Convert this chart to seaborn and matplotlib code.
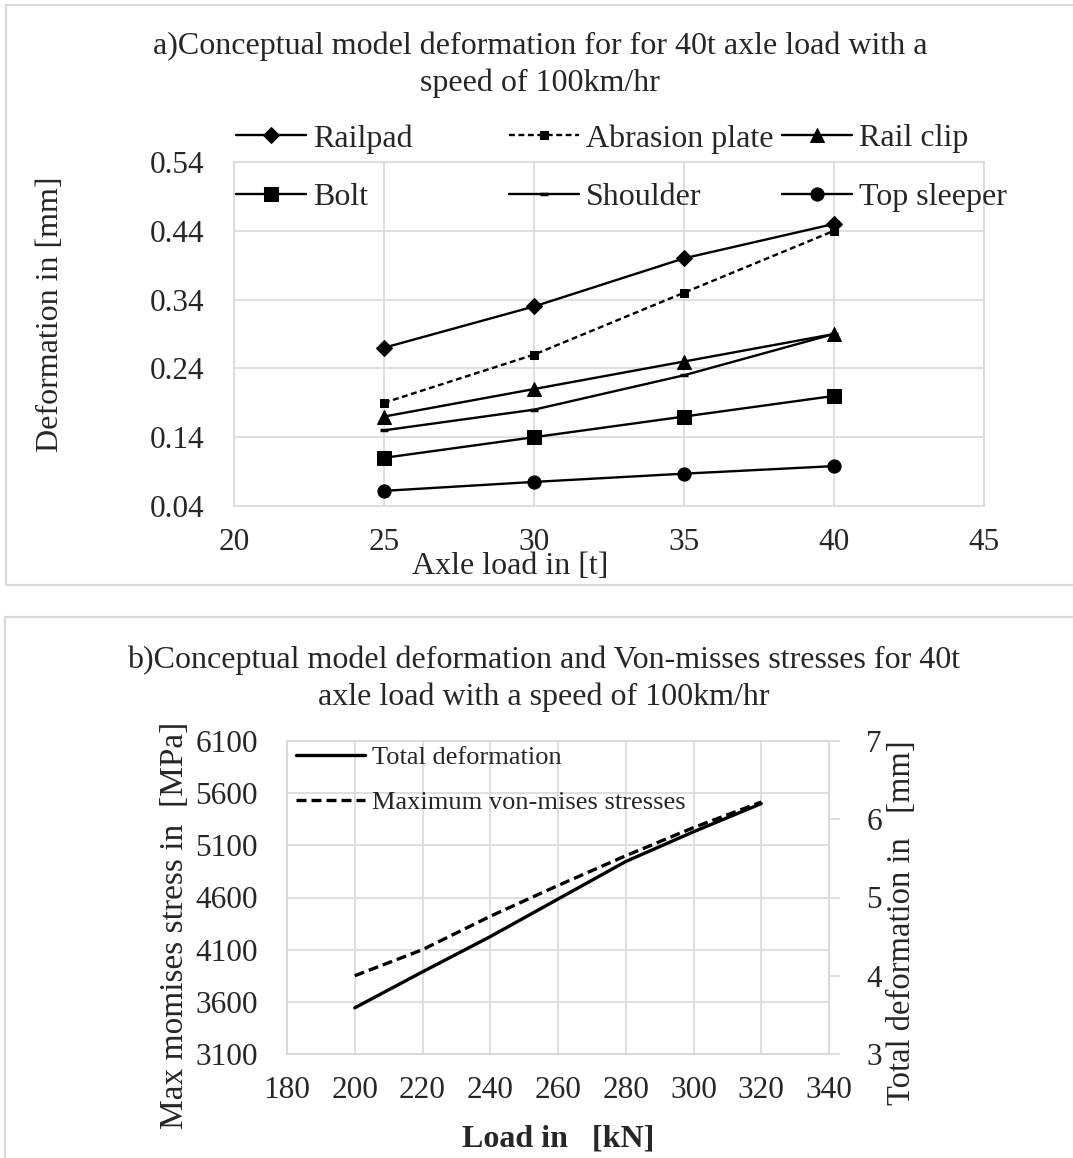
import numpy as np
import pandas as pd
import matplotlib
matplotlib.use("Agg")
import matplotlib.pyplot as plt
from matplotlib.patches import Rectangle
import seaborn as sns

# a) component deformation vs axle load
axle_load = [25, 30, 35, 40]
railpad = [0.27, 0.33, 0.40, 0.45]
abrasion_plate = [0.19, 0.26, 0.35, 0.44]
rail_clip = [0.17, 0.21, 0.25, 0.29]
bolt = [0.11, 0.14, 0.17, 0.20]
shoulder = [0.15, 0.18, 0.23, 0.29]
top_sleeper = [0.062, 0.075, 0.087, 0.098]

# b) total deformation and von-mises stress vs load
load_kn = [200, 220, 240, 260, 280, 300, 320]
total_deformation = [3.59, 4.05, 4.50, 4.98, 5.46, 5.84, 6.20]
von_mises = [3850, 4100, 4420, 4715, 5000, 5270, 5515]

sns.set_style("white")
plt.rcParams['font.family'] = ['Liberation Serif', 'DejaVu Serif']
plt.rcParams['axes.unicode_minus'] = False

GRID = '#d9d9d9'
W, H = 1073, 1158
fig = plt.figure(figsize=(W / 100, H / 100), dpi=100)

# panel borders
for (x0, y0, x1, y1) in [(6, 5, 1080, 585), (5, 617, 1080, 1170)]:
    fig.patches.append(Rectangle((x0 / W, 1 - y1 / H), (x1 - x0) / W, (y1 - y0) / H,
                                 transform=fig.transFigure, fill=False,
                                 edgecolor=GRID, linewidth=1.6, zorder=0))

def px(x0, y0, x1, y1):
    return [x0 / W, 1 - y1 / H, (x1 - x0) / W, (y1 - y0) / H]

# ---------------- chart a ----------------
ax = fig.add_axes(px(234, 162, 984, 506))
series_a = [
    ("Railpad", railpad, dict(marker='D', markersize=8, linestyle='-')),
    ("Abrasion plate", abrasion_plate, dict(marker='s', markersize=5.5, linestyle=(0, (2.5, 1.5)))),
    ("Rail clip", rail_clip, dict(marker='^', markersize=10, linestyle='-')),
    ("Bolt", bolt, dict(marker='s', markersize=10, linestyle='-')),
    ("Shoulder", shoulder, dict(marker='_', markersize=6, markeredgewidth=2.5, linestyle='-')),
    ("Top sleeper", top_sleeper, dict(marker='o', markersize=9.5, linestyle='-')),
]
for name, vals, kw in series_a:
    df = pd.DataFrame({"load": axle_load, "deformation": vals})
    sns.lineplot(data=df, x="load", y="deformation", ax=ax, color='black',
                 linewidth=1.7, markeredgecolor='black', label=name, **kw)

ax.set_xlim(20, 45)
ax.set_ylim(0.04, 0.54)
ax.set_xticks(np.arange(20, 46, 5))
ax.set_yticks([0.04, 0.14, 0.24, 0.34, 0.44, 0.54])
ax.set_yticklabels(["0.04", "0.14", "0.24", "0.34", "0.44", "0.54"])
ax.grid(True, color=GRID, linewidth=1.2)
for s in ax.spines.values():
    s.set_color(GRID)
    s.set_linewidth(1.2)
ax.tick_params(axis='x', length=0, pad=16, labelsize=22.5)
ax.tick_params(axis='y', length=0, pad=21, labelsize=22.5)
ax.set_xlabel("Axle load in [t]", fontsize=23)
ax.xaxis.label.set_va('center')
ax.xaxis.set_label_coords(0.368, -0.176)
ax.set_ylabel("Deformation in [mm]", fontsize=23)
ax.yaxis.label.set_va('center')
ax.yaxis.set_label_coords(-0.245, 0.558)

handles, labels = ax.get_legend_handles_labels()
ax.get_legend().remove()
hmap = dict(zip(labels, handles))
for x0, pair in [(236, ("Railpad", "Bolt")), (509, ("Abrasion plate", "Shoulder")),
                 (782, ("Rail clip", "Top sleeper"))]:
    fig.legend([hmap[p] for p in pair], list(pair), loc='upper left',
               bbox_to_anchor=(x0 / W, 1 - 124 / H), bbox_transform=fig.transFigure,
               frameon=False, fontsize=23, handlelength=2.2, handletextpad=0.22,
               labelspacing=0.92, borderpad=0, borderaxespad=0)

fig.text(540 / W, 1 - 65 / H,
         "a)Conceptual model deformation for for 40t axle load with a\nspeed of 100km/hr",
         ha='center', va='center', fontsize=23, linespacing=1.32)

# ---------------- chart b ----------------
bx = fig.add_axes(px(287, 741, 829, 1054))
bx2 = bx.twinx()
df_b = pd.DataFrame({"load": load_kn, "deformation": total_deformation, "stress": von_mises})
sns.lineplot(data=df_b, x="load", y="stress", ax=bx, color='black', linewidth=2.4,
             linestyle=(0, (3, 1.5)), label="Maximum von-mises stresses")
sns.lineplot(data=df_b, x="load", y="deformation", ax=bx2, color='black', linewidth=2.4,
             label="Total deformation")

bx.set_xlim(180, 340)
bx.set_ylim(3100, 6100)
bx.set_xticks(np.arange(180, 341, 20))
bx.set_yticks(np.arange(3100, 6101, 500))
bx2.set_ylim(3, 7)
bx2.set_yticks(np.arange(3, 8, 1))
bx.grid(True, color=GRID, linewidth=1.2)
bx2.grid(False)
for a in (bx, bx2):
    for s in a.spines.values():
        s.set_color(GRID)
        s.set_linewidth(1.2)
bx.tick_params(axis='x', length=0, pad=16, labelsize=22.5)
bx.tick_params(axis='y', length=0, pad=21, labelsize=22.5)
bx2.tick_params(axis='y', length=8, width=1.2, color=GRID, pad=19, labelsize=22.5)

bx.set_xlabel("Load in   [kN]", fontsize=23, fontweight='bold')
bx.xaxis.label.set_va('center')
bx.xaxis.set_label_coords(0.5, -0.272)
bx.set_ylabel("Max momises stress in  [MPa]", fontsize=24)
bx.yaxis.label.set_va('center')
bx.yaxis.set_label_coords(-0.207, 0.41)
bx2.set_ylabel("Total deformation in   [mm]", fontsize=23.5)
bx2.yaxis.label.set_va('center')
bx2.yaxis.set_label_coords(1.135, 0.418)

h1, l1 = bx.get_legend_handles_labels()
h2, l2 = bx2.get_legend_handles_labels()
bx.get_legend().remove()
bx2.get_legend().remove()
bx2.legend(h2 + h1, l2 + l1, loc='upper left', bbox_to_anchor=(0.0166, 0.984),
           frameon=False, fontsize=19, handlelength=2.6, handletextpad=0.27,
           labelspacing=0.8, borderpad=0, borderaxespad=0)

fig.text(544 / W, 1 - 679 / H,
         "b)Conceptual model deformation and Von-misses stresses for 40t\naxle load with a speed of 100km/hr",
         ha='center', va='center', fontsize=23, linespacing=1.32)

fig.savefig("out.png", dpi=100)
